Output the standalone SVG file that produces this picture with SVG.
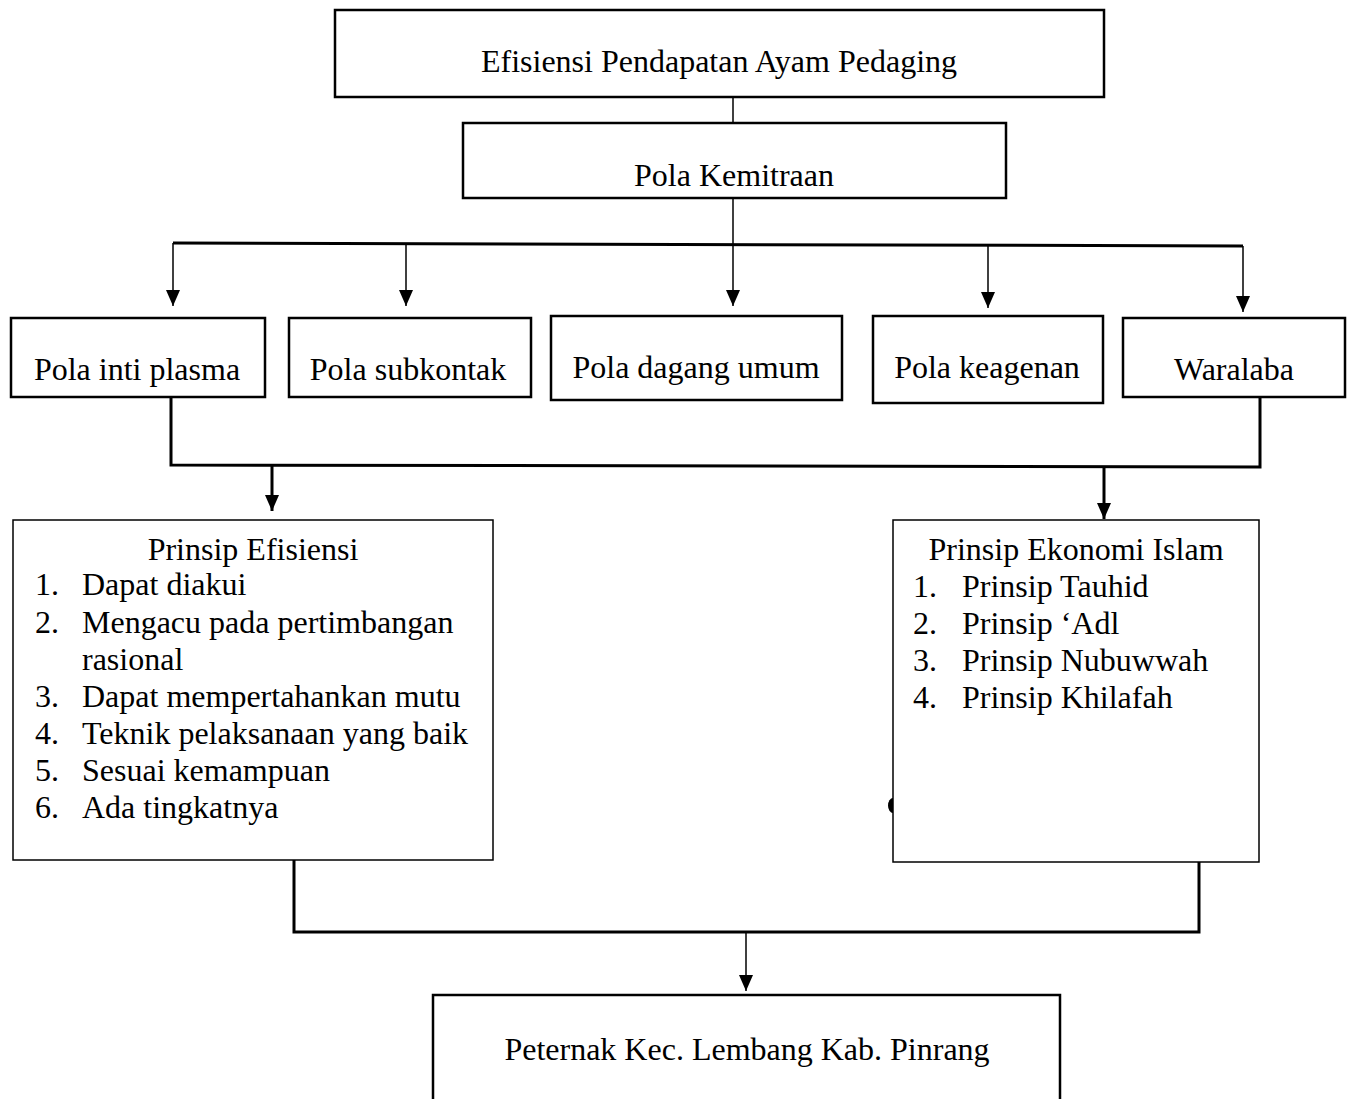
<svg xmlns="http://www.w3.org/2000/svg" width="1348" height="1099" viewBox="0 0 1348 1099">
<style>
text{font-family:"Liberation Serif","Times New Roman",serif;font-size:32px;fill:#000}
.c{text-anchor:middle}
.box{fill:#fff;stroke:#000;stroke-width:2.5}
.thin{fill:#fff;stroke:#000;stroke-width:1.5}
.ln{fill:none;stroke:#000;stroke-width:1.5}
.lnb{fill:none;stroke:#000;stroke-width:3}
</style>
<defs>
<marker id="a" markerWidth="16" markerHeight="14" refX="16" refY="7" orient="auto" markerUnits="userSpaceOnUse">
<path d="M0,0 L16,7 L0,14 Z" fill="#000"/>
</marker>
</defs>
<g id="connectors">
<line class="ln" x1="733" y1="97" x2="733" y2="123" stroke="#444"/>
<line class="ln" x1="733" y1="198" x2="733" y2="306" marker-end="url(#a)"/>
<line class="lnb" x1="173" y1="243" x2="1243" y2="246" stroke-width="2.5"/>
<line class="ln" x1="173" y1="243" x2="173" y2="306" marker-end="url(#a)"/>
<line class="ln" x1="406" y1="244" x2="406" y2="306" marker-end="url(#a)"/>
<line class="ln" x1="988" y1="245" x2="988" y2="308" marker-end="url(#a)"/>
<line class="ln" x1="1243" y1="246" x2="1243" y2="312" marker-end="url(#a)"/>
<polyline class="lnb" points="171,397 171,465 1260,467 1260,397"/>
<line class="lnb" x1="272" y1="465" x2="272" y2="511" marker-end="url(#a)"/>
<line class="lnb" x1="1104" y1="467" x2="1104" y2="519" marker-end="url(#a)"/>
<polyline class="lnb" points="294,860 294,932 1199,932 1199,862"/>
<line class="ln" x1="746" y1="932" x2="746" y2="991" marker-end="url(#a)"/>
</g>
<g id="n-top"><rect class="box" x="335" y="10" width="769" height="87"/><text class="c" x="719" y="72">Efisiensi Pendapatan Ayam Pedaging</text></g>
<g id="n-kemitraan"><rect class="box" x="463" y="123" width="543" height="75"/><text class="c" x="734" y="186">Pola Kemitraan</text></g>
<g id="n-inti"><rect class="box" x="11" y="318" width="254" height="79"/><text class="c" x="137" y="380">Pola inti plasma</text></g>
<g id="n-subkontak"><rect class="box" x="289" y="318" width="242" height="79"/><text class="c" x="408" y="380">Pola subkontak</text></g>
<g id="n-dagang"><rect class="box" x="551" y="316" width="291" height="84"/><text class="c" x="696" y="378">Pola dagang umum</text></g>
<g id="n-keagenan"><rect class="box" x="873" y="316" width="230" height="87"/><text class="c" x="987" y="378">Pola keagenan</text></g>
<g id="n-waralaba"><rect class="box" x="1123" y="318" width="222" height="79"/><text class="c" x="1234" y="380">Waralaba</text></g>
<g id="n-efisiensi"><rect class="thin" x="13" y="520" width="480" height="340"/>
<text class="c" x="253" y="560">Prinsip Efisiensi</text>
<text x="35" y="595">1.</text><text x="82" y="595">Dapat diakui</text>
<text x="35" y="633">2.</text><text x="82" y="633">Mengacu pada pertimbangan</text>
<text x="82" y="670">rasional</text>
<text x="35" y="707">3.</text><text x="82" y="707">Dapat mempertahankan mutu</text>
<text x="35" y="744">4.</text><text x="82" y="744">Teknik pelaksanaan yang baik</text>
<text x="35" y="781">5.</text><text x="82" y="781">Sesuai kemampuan</text>
<text x="35" y="818">6.</text><text x="82" y="818">Ada tingkatnya</text>
</g>
<g id="n-islam"><rect class="thin" x="893" y="520" width="366" height="342"/>
<text class="c" x="1076" y="560">Prinsip Ekonomi Islam</text>
<text x="913" y="597">1.</text><text x="962" y="597">Prinsip Tauhid</text>
<text x="913" y="634">2.</text><text x="962" y="634">Prinsip ‘Adl</text>
<text x="913" y="671">3.</text><text x="962" y="671">Prinsip Nubuwwah</text>
<text x="913" y="708">4.</text><text x="962" y="708">Prinsip Khilafah</text>
<path d="M893,798 A5,7.5 0 0 0 893,813 Z" fill="#000"/>
</g>
<g id="n-peternak"><path class="box" d="M433,1100 L433,995 L1060,995 L1060,1100"/><text class="c" x="747" y="1060">Peternak Kec. Lembang Kab. Pinrang</text></g>
</svg>
